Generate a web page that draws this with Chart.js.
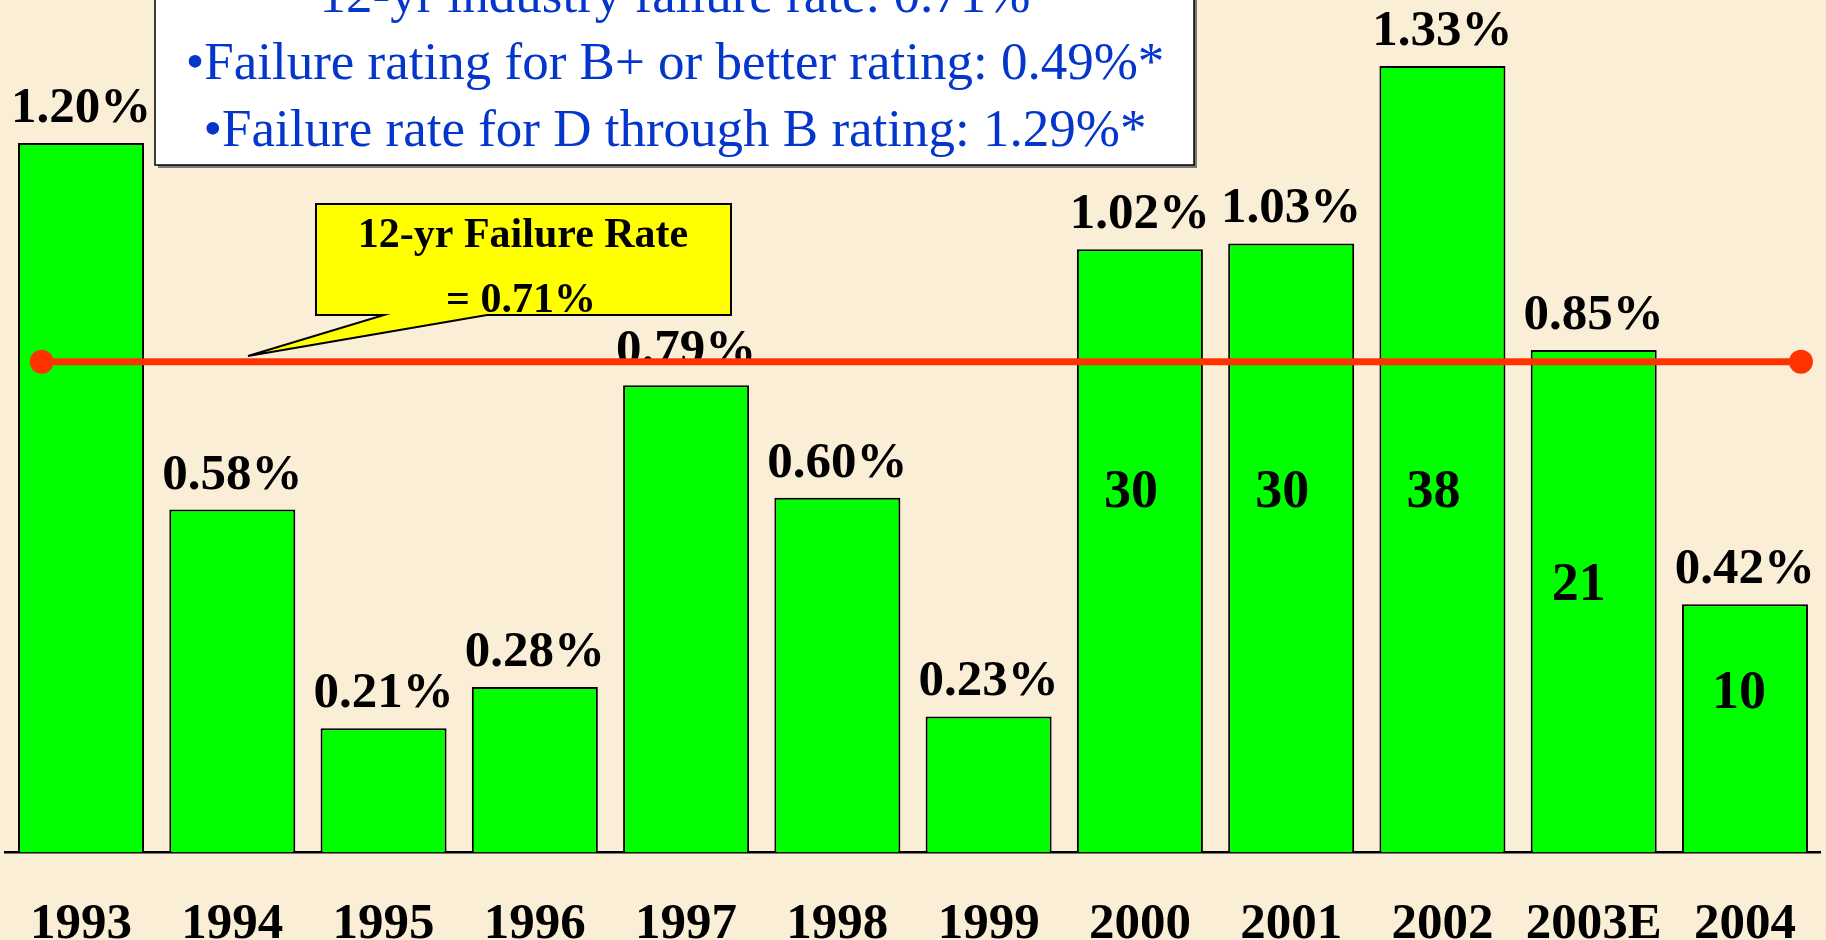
<!DOCTYPE html>
<html>
<head>
  <meta charset="UTF-8">
  <title>12-yr Failure Rate</title>
  <script src="https://cdn.jsdelivr.net/npm/chart.js@4.4.1/dist/chart.umd.min.js"></script>
  <style>
    html, body { margin: 0; padding: 0; background: #fbeed6; }
    canvas { display: block; }
  </style>
</head>
<body>
<canvas id="myChart" width="1826" height="940"></canvas>
<script>
  // data
  var years = ["1993", "1994", "1995", "1996", "1997", "1998", "1999", "2000", "2001", "2002", "2003E", "2004"];
  var failureRates = [1.20, 0.58, 0.21, 0.28, 0.79, 0.60, 0.23, 1.02, 1.03, 1.33, 0.85, 0.42];
  var failureCounts = [null, null, null, null, null, null, null, 30, 30, 38, 21, 10];
  var avgLineLevel = 0.83;          // where the orange line sits on the bar scale
  var avgLineSpan = [-0.26, 11.37]; // in category units
  var boxLines = [
    "12-yr industry failure rate: 0.71%",
    "\u2022Failure rating for B+ or better rating: 0.49%*",
    "\u2022Failure rate for D through B rating: 1.29%*"
  ];
  var calloutLines = ["12-yr Failure Rate", "= 0.71%"];

  var serif = "'Liberation Serif', 'Times New Roman', serif";

  // label baselines (in value units) and nudges for the counts drawn inside bars
  var countBaselines = [null, null, null, null, null, null, null, 0.584, 0.584, 0.584, 0.427, 0.244];
  var countNudge = [0, 0, 0, 0, 0, 0, 0, -9, -9, -9, -15, -6];

  var decor = {
    id: "decor",
    beforeDraw: function(chart) {
      var ctx = chart.ctx;
      ctx.save();
      ctx.fillStyle = "#fbeed6";
      ctx.fillRect(0, 0, chart.width, chart.height);
      ctx.restore();
    },
    afterDatasetDraw: function(chart, args) {
      if (args.index !== 1) return;
      var ctx = chart.ctx, y = chart.scales.y;
      var meta = chart.getDatasetMeta(1);
      ctx.save();
      ctx.fillStyle = "#000";
      ctx.textAlign = "center";
      ctx.textBaseline = "alphabetic";
      meta.data.forEach(function(bar, i) {
        ctx.font = "bold 51px " + serif;
        ctx.fillText(failureRates[i].toFixed(2) + "%", bar.x, bar.y - 21);
        if (failureCounts[i] != null) {
          ctx.font = "bold 54px " + serif;
          ctx.fillText(String(failureCounts[i]), bar.x + countNudge[i], y.getPixelForValue(countBaselines[i]));
        }
      });
      ctx.restore();
    },
    afterDraw: function(chart) {
      var ctx = chart.ctx;
      ctx.save();
      // top white box
      ctx.fillStyle = "#7a7a7a";
      ctx.fillRect(158, -5, 1039, 173);
      ctx.fillStyle = "#ffffff";
      ctx.fillRect(155, -8, 1039, 173);
      ctx.strokeStyle = "#000";
      ctx.lineWidth = 1.5;
      ctx.strokeRect(155, -8, 1039, 173);
      ctx.fillStyle = "#0536cc";
      ctx.font = "53px " + serif;
      ctx.textAlign = "center";
      ctx.textBaseline = "alphabetic";
      boxLines.forEach(function(t, i) {
        ctx.fillText(t, 675, 12 + i * 67);
      });

      // yellow callout
      ctx.beginPath();
      ctx.moveTo(316, 204);
      ctx.lineTo(731, 204);
      ctx.lineTo(731, 315);
      ctx.lineTo(487, 315);
      ctx.lineTo(248, 356);
      ctx.lineTo(384, 315);
      ctx.lineTo(316, 315);
      ctx.closePath();
      ctx.fillStyle = "#ffff00";
      ctx.fill();
      ctx.strokeStyle = "#000";
      ctx.lineWidth = 2;
      ctx.stroke();
      ctx.fillStyle = "#000";
      ctx.font = "bold 42px " + serif;
      ctx.fillText(calloutLines[0], 523, 247);
      ctx.fillText(calloutLines[1], 521, 312);
      ctx.restore();
    }
  };

  new Chart(document.getElementById("myChart"), {
    type: "bar",
    data: {
      labels: years,
      datasets: [
        {
          type: "line",
          xAxisID: "x2",
          yAxisID: "y",
          data: [{ x: avgLineSpan[0], y: avgLineLevel }, { x: avgLineSpan[1], y: avgLineLevel }],
          borderColor: "#ff3300",
          borderWidth: 7,
          pointRadius: 12,
          pointBackgroundColor: "#ff3300",
          pointBorderWidth: 0,
          clip: false,
          order: 0
        },
        {
          type: "bar",
          xAxisID: "x",
          yAxisID: "y",
          data: failureRates,
          backgroundColor: "#00ff00",
          borderColor: "#000000",
          borderWidth: 2,
          barPercentage: 0.833,
          categoryPercentage: 1,
          grouped: false,
          order: 1
        }
      ]
    },
    options: {
      responsive: false,
      animation: false,
      devicePixelRatio: 1,
      layout: { autoPadding: false, padding: { left: 5.4, right: 5.4, top: 0, bottom: 0 } },
      plugins: { legend: { display: false }, tooltip: { enabled: false } },
      scales: {
        x: {
          type: "category",
          grid: { display: false, drawTicks: false },
          border: { display: true, color: "#000", width: 2.5 },
          ticks: {
            color: "#000",
            font: { family: serif, size: 51, weight: "bold", lineHeight: 1.108 },
            padding: -12.75,
            autoSkip: false,
            maxRotation: 0,
            callback: function(v, i) { return ["", years[i]]; }
          }
        },
        x2: {
          type: "linear", axis: "x", display: false, offset: false,
          min: -0.5, max: 11.5,
          grid: { display: false }, ticks: { display: false }
        },
        y: { type: "linear", display: false, min: 0, max: 1.4417 }
      }
    },
    plugins: [decor]
  });
</script>
</body>
</html>
